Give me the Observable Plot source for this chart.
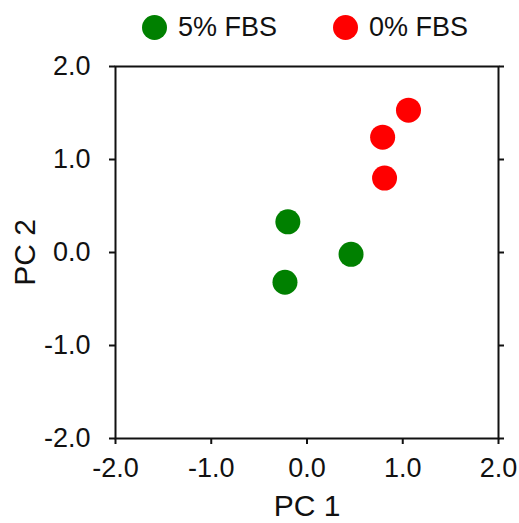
<!DOCTYPE html>
<html>
<head>
<meta charset="utf-8">
<script src="https://cdn.jsdelivr.net/npm/d3@7"></script>
<script src="https://cdn.jsdelivr.net/npm/@observablehq/plot@0.6"></script>
<style>
  html, body { margin: 0; padding: 0; background: #fff; }
  body { width: 519px; height: 523px; overflow: hidden; font-family: "Liberation Sans", Arial, sans-serif; }
  #legend { position: relative; height: 50px; font-size: 27px; color: #111; }
  .item { position: absolute; top: 14px; display: flex; align-items: center; height: 27px; }
  .sw { width: 25px; height: 25px; border-radius: 50%; margin-right: 11px; }
  #chart svg { display: block; }
</style>
</head>
<body>
<div id="legend"></div>
<div id="chart"></div>
<script>
const categories = ["5% FBS", "0% FBS"];
const colors = ["#008000", "#ff0000"];
const group = ["5% FBS", "5% FBS", "5% FBS", "0% FBS", "0% FBS", "0% FBS"];
const pc1 = [-0.20, 0.46, -0.23, 1.06, 0.79, 0.81];
const pc2 = [0.33, -0.02, -0.32, 1.53, 1.24, 0.80];
const tickValues = [-2, -1, 0, 1, 2];
const tickLabels = ["-2.0", "-1.0", "0.0", "1.0", "2.0"];

const data = group.map((g, i) => ({group: g, pc1: pc1[i], pc2: pc2[i]}));
const fmt = d => tickLabels[tickValues.indexOf(d)];

// legend
const legend = document.getElementById("legend");
const legendLeft = [142, 333];
categories.forEach((c, i) => {
  const it = document.createElement("div");
  it.className = "item";
  it.style.left = legendLeft[i] + "px";
  const sw = document.createElement("span");
  sw.className = "sw";
  sw.style.background = colors[i];
  const t = document.createElement("span");
  t.textContent = c;
  it.appendChild(sw); it.appendChild(t);
  legend.appendChild(it);
});

const plot = Plot.plot({
  width: 519,
  height: 473,
  marginTop: 16,
  marginBottom: 85,
  marginLeft: 115,
  marginRight: 21,
  style: {fontFamily: "Liberation Sans, Arial, sans-serif", fontSize: "27px", color: "#111", background: "#fff"},
  x: {domain: [-2, 2]},
  y: {domain: [-2, 2]},
  color: {domain: categories, range: colors},
  marks: [
    Plot.frame({stroke: "#111", strokeWidth: 2}),
    Plot.axisX({anchor: "bottom", ticks: tickValues, tickFormat: fmt, tickSize: 6, tickPadding: 13, strokeWidth: 2,
      label: "PC 1", labelAnchor: "center", labelArrow: "none", labelOffset: 77, fontSize: 27}),
    Plot.axisY({anchor: "left", ticks: tickValues, tickFormat: fmt, tickSize: 6, tickPadding: 19, strokeWidth: 2,
      label: "PC 2", labelAnchor: "center", labelArrow: "none", labelOffset: 102, fontSize: 27}),
    Plot.axisY({anchor: "right", ticks: tickValues, tickFormat: () => "", tickSize: 5, strokeWidth: 2, label: null}),
    Plot.dot(data, {x: "pc1", y: "pc2", fill: "group", r: 12.5, stroke: "none"})
  ]
});
document.getElementById("chart").appendChild(plot);

// enlarge axis titles
plot.querySelectorAll("g[aria-label='x-axis label'] text, g[aria-label='y-axis label'] text").forEach(t => t.setAttribute("font-size", "30"));
</script>
</body>
</html>
